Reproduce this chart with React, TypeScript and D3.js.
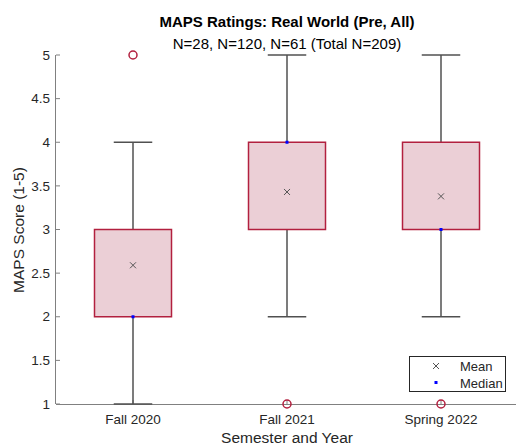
import React from "react";
import * as d3 from "d3";

const categories = ["Fall 2020", "Fall 2021", "Spring 2022"];
const q1 = [2, 3, 3];
const q3 = [3, 4, 4];
const medians = [2, 4, 3];
const means = [2.59, 3.43, 3.38];
const whiskerLow = [1, 2, 2];
const whiskerHigh = [4, 5, 5];
const outliers = [[5], [1], [1]];
const yTicks = [1, 1.5, 2, 2.5, 3, 3.5, 4, 4.5, 5];

const W = 516, H = 447;
const FONT = "'Liberation Sans', Arial, Helvetica, sans-serif";

export default function App() {
  const x = d3.scaleLinear().domain([0.5, 3.5]).range([56, 518]);
  const y = d3.scaleLinear().domain([1, 5]).range([404, 55]);
  const step = x(2) - x(1);
  const boxW = step * 0.5;
  const capW = step * 0.25;
  const red = "#b2203f";
  const fill = "#ebcfd6";
  const gray = "#505050";
  const axis = "#808080";

  return (
    <svg width={W} height={H} style={{ position: "absolute", left: 0, top: 0, fontFamily: FONT }}>
      <rect width={W} height={H} fill="#fff" />
      {/* axes */}
      <line x1={56} x2={518} y1={404.5} y2={404.5} stroke={axis} strokeWidth={1} />
      <line x1={55.5} x2={55.5} y1={55} y2={404} stroke={axis} strokeWidth={1} />
      {yTicks.map((t) => (
        <g key={t}>
          <line x1={56} x2={60} y1={y(t)} y2={y(t)} stroke={axis} />
          <text x={50} y={y(t)} dy="0.35em" textAnchor="end" fontSize={13.5} fill="#262626">{t}</text>
        </g>
      ))}
      {categories.map((c, i) => (
        <g key={c}>
          <line x1={x(i + 1)} x2={x(i + 1)} y1={404} y2={400} stroke={axis} />
          <text x={x(i + 1)} y={424} textAnchor="middle" fontSize={13.5} fill="#262626">{c}</text>
        </g>
      ))}
      {categories.map((c, i) => {
        const cx = x(i + 1);
        return (
          <g key={"b" + c}>
            <line x1={cx} x2={cx} y1={y(whiskerHigh[i])} y2={y(q3[i])} stroke={gray} strokeWidth={1.5} />
            <line x1={cx} x2={cx} y1={y(q1[i])} y2={y(whiskerLow[i])} stroke={gray} strokeWidth={1.5} />
            <line x1={cx - capW / 2} x2={cx + capW / 2} y1={y(whiskerHigh[i])} y2={y(whiskerHigh[i])} stroke={gray} strokeWidth={1.5} />
            <line x1={cx - capW / 2} x2={cx + capW / 2} y1={y(whiskerLow[i])} y2={y(whiskerLow[i])} stroke={gray} strokeWidth={1.5} />
            <rect x={cx - boxW / 2} y={y(q3[i])} width={boxW} height={y(q1[i]) - y(q3[i])} fill={fill} stroke={red} strokeWidth={1.5} />
            {outliers[i].map((o, k) => (
              <circle key={k} cx={cx} cy={y(o)} r={4} fill="none" stroke={red} strokeWidth={1.5} />
            ))}
            <g transform={`translate(${cx},${y(means[i])})`} stroke="#555" strokeWidth={1}>
              <line x1={-3} x2={3} y1={-3} y2={3} />
              <line x1={-3} x2={3} y1={3} y2={-3} />
            </g>
            <rect x={cx - 1.5} y={y(medians[i]) - 1.5} width={3} height={3} fill="#0000ff" />
          </g>
        );
      })}
      {/* legend */}
      <rect x={409.5} y={356.5} width={96} height={35} fill="#fff" stroke="#262626" strokeWidth={1} />
      <g transform="translate(436,366)" stroke="#555" strokeWidth={1}>
        <line x1={-3} x2={3} y1={-3} y2={3} />
        <line x1={-3} x2={3} y1={3} y2={-3} />
      </g>
      <rect x={434.5} y={381} width={3} height={3} fill="#0000ff" />
      <text x={460} y={366} dy="0.35em" fontSize={13} fill="#262626">Mean</text>
      <text x={460} y={383} dy="0.35em" fontSize={13} fill="#262626">Median</text>
      {/* titles */}
      <text x={287} y={27} textAnchor="middle" fontSize={15} fontWeight="bold" fill="#000">MAPS Ratings: Real World (Pre, All)</text>
      <text x={287} y={49} textAnchor="middle" fontSize={15} fill="#000">N=28, N=120, N=61 (Total N=209)</text>
      <text x={287} y={443} textAnchor="middle" fontSize={15.5} fill="#262626">Semester and Year</text>
      <text transform={`translate(24,230) rotate(-90)`} textAnchor="middle" fontSize={15.5} fill="#262626">MAPS Score (1-5)</text>
    </svg>
  );
}
